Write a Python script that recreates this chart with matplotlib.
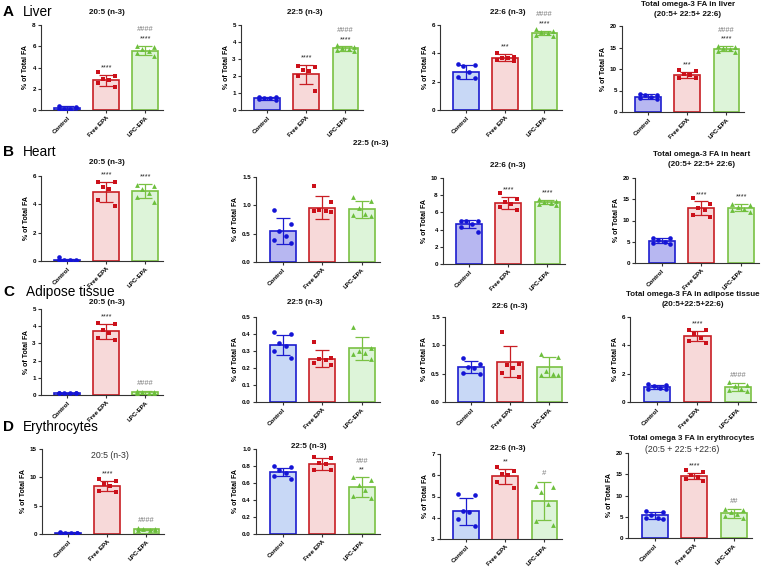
import matplotlib
matplotlib.use('Agg')
import matplotlib.pyplot as plt
import numpy as np

plt.rcParams['font.family'] = ['Liberation Sans', 'DejaVu Sans']

W, H = 766, 568
groups = ['Control', 'Free EPA', 'LPC-EPA']

# ---------------- data (mean, SD, individual values) ----------------
# Row A: Liver
liv205_mean = [0.18, 2.80, 5.60]
liv205_sd = [0.15, 0.50, 0.45]
liv205_pts = [[0.35, 0.30, 0.10, 0.05, 0.10, 0.15], [3.60, 3.20, 2.90, 2.80, 2.50, 2.20], [6.00, 5.90, 5.70, 5.60, 5.40, 5.10]]
liv225_mean = [0.68, 2.10, 3.62]
liv225_sd = [0.08, 0.55, 0.12]
liv225_pts = [[0.78, 0.75, 0.72, 0.70, 0.65, 0.60], [2.60, 2.55, 2.35, 2.30, 2.00, 1.10], [3.80, 3.70, 3.65, 3.60, 3.55, 3.50]]
liv226_mean = [2.70, 3.70, 5.45]
liv226_sd = [0.50, 0.25, 0.15]
liv226_pts = [[3.25, 3.20, 3.10, 2.70, 2.30, 2.25], [4.05, 3.75, 3.70, 3.65, 3.50, 3.45], [5.70, 5.60, 5.50, 5.45, 5.30, 5.25]]
livtot_mean = [3.60, 8.60, 14.70]
livtot_sd = [0.50, 0.80, 0.60]
livtot_pts = [[4.20, 4.00, 3.90, 3.50, 3.20, 3.00], [9.80, 9.50, 8.80, 8.50, 7.80, 7.80], [15.30, 15.10, 14.80, 14.60, 14.20, 14.00]]

# Row B: Heart
hrt205_mean = [0.08, 4.90, 4.95]
hrt205_sd = [0.08, 0.70, 0.50]
hrt205_pts = [[0.25, 0.10, 0.10, 0.05, 0.05, 0.00], [5.55, 5.55, 5.20, 5.10, 4.30, 3.85], [5.40, 5.30, 5.05, 4.80, 4.50, 4.20]]
hrt225_mean = [0.55, 0.96, 0.93]
hrt225_sd = [0.23, 0.21, 0.15]
hrt225_pts = [[0.91, 0.67, 0.55, 0.45, 0.38, 0.33], [1.34, 1.06, 0.92, 0.90, 0.90, 0.88], [1.15, 1.07, 0.95, 0.85, 0.83, 0.82]]
hrt226_mean = [4.65, 7.10, 7.20]
hrt226_sd = [0.45, 0.70, 0.25]
hrt226_pts = [[5.05, 5.00, 4.95, 4.60, 4.30, 3.75], [8.30, 7.60, 7.20, 7.00, 6.60, 6.30], [7.60, 7.30, 7.20, 7.10, 7.00, 6.90]]
hrttot_mean = [5.20, 12.90, 13.00]
hrttot_sd = [0.60, 1.60, 0.80]
hrttot_pts = [[6.00, 5.90, 5.50, 5.00, 4.80, 4.40], [15.20, 14.00, 13.00, 12.50, 11.20, 10.90], [13.80, 13.60, 13.20, 12.80, 12.40, 12.10]]

# Row C: Adipose tissue
adp205_mean = [0.10, 3.70, 0.15]
adp205_sd = [0.02, 0.45, 0.07]
adp205_pts = [[0.13, 0.12, 0.12, 0.10, 0.10, 0.10], [4.20, 4.10, 3.80, 3.60, 3.30, 3.20], [0.22, 0.18, 0.15, 0.12, 0.10, 0.10]]
adp225_mean = [0.335, 0.255, 0.315]
adp225_sd = [0.060, 0.050, 0.065]
adp225_pts = [[0.41, 0.40, 0.35, 0.33, 0.30, 0.26], [0.355, 0.26, 0.255, 0.25, 0.23, 0.22], [0.44, 0.32, 0.30, 0.29, 0.28, 0.255]]
adp226_mean = [0.62, 0.71, 0.62]
adp226_sd = [0.10, 0.27, 0.17]
adp226_pts = [[0.77, 0.67, 0.62, 0.60, 0.52, 0.50], [1.24, 0.67, 0.65, 0.60, 0.52, 0.45], [0.85, 0.80, 0.55, 0.50, 0.48, 0.48]]
adptot_mean = [1.08, 4.65, 1.05]
adptot_sd = [0.15, 0.35, 0.28]
adptot_pts = [[1.30, 1.20, 1.10, 1.00, 0.95, 0.90], [5.10, 5.05, 4.80, 4.50, 4.30, 4.15], [1.40, 1.20, 1.10, 0.90, 0.85, 0.80]]

# Row D: Erythrocytes
ery205_mean = [0.20, 8.50, 0.80]
ery205_sd = [0.08, 0.90, 0.15]
ery205_pts = [[0.30, 0.25, 0.20, 0.20, 0.15, 0.10], [9.70, 9.40, 8.90, 8.40, 7.60, 7.40], [1.00, 0.90, 0.80, 0.75, 0.70, 0.65]]
ery225_mean = [0.73, 0.82, 0.55]
ery225_sd = [0.05, 0.07, 0.12]
ery225_pts = [[0.80, 0.79, 0.75, 0.72, 0.68, 0.65], [0.91, 0.90, 0.84, 0.82, 0.75, 0.75], [0.67, 0.63, 0.58, 0.52, 0.45, 0.42]]
ery226_mean = [4.30, 5.95, 4.80]
ery226_sd = [0.62, 0.35, 0.90]
ery226_pts = [[5.10, 5.05, 4.30, 4.25, 3.95, 3.60], [6.40, 6.20, 6.05, 6.00, 5.70, 5.40], [5.50, 5.45, 5.20, 4.65, 3.85, 3.65]]
erytot_mean = [5.30, 14.60, 5.80]
erytot_sd = [0.80, 0.80, 1.10]
erytot_pts = [[6.30, 6.20, 5.30, 4.80, 4.60, 4.50], [15.90, 15.50, 14.80, 14.40, 13.80, 13.40], [6.90, 6.70, 6.20, 5.60, 5.20, 4.60]]

# significance marks per group
liv_stars = [['', '****', '****'], ['', '****', '****'], ['', '***', '****'], ['', '***', '****']]
liv_hash = [['', '', '####'], ['', '', '####'], ['', '', '####'], ['', '', '####']]
hrt_stars = [['', '****', '****'], ['', '', ''], ['', '****', '****'], ['', '****', '****']]
hrt_hash = [['', '', ''], ['', '', ''], ['', '', ''], ['', '', '']]
adp_stars = [['', '****', ''], ['', '', ''], ['', '', ''], ['', '****', '']]
adp_hash = [['', '', '####'], ['', '', ''], ['', '', ''], ['', '', '####']]
ery_stars = [['', '****', ''], ['', '', '**'], ['', '**', ''], ['', '****', '']]
ery_hash = [['', '', '####'], ['', '', '###'], ['', '', '#'], ['', '', '##']]

# ---------------- style ----------------
edge_cols = ['#1c1ccf', '#c81e24', '#7ac143']
mark_cols = ['#1414d6', '#cc101a', '#6cbf3c']
free_fill = '#f7d9d9'
lpc_fill = '#ddf4d9'
markers = ['o', 's', '^']
offs = np.array([-0.22, 0.22, -0.08, 0.08, -0.22, 0.22])

fig = plt.figure(figsize=(W / 100, H / 100), dpi=100)


def draw(L, top, bot, width, means, sds, pts, ylim, yticks, fmt, stars, hashes, cfill):
    ax = fig.add_axes([L / W, 1 - bot / H, width / W, (bot - top) / H])
    x = np.arange(3)
    fills = [cfill, free_fill, lpc_fill]
    ax.bar(x, means, width=0.66, color=fills, edgecolor=edge_cols, linewidth=1.2, zorder=1)
    for i in range(3):
        ax.errorbar(x[i], means[i], yerr=sds[i], color=edge_cols[i], capsize=5,
                    capthick=0.9, elinewidth=0.9, zorder=3)
        p = np.array(pts[i])
        ax.scatter(x[i] + offs[:len(p)], p, marker=markers[i], s=11 if i != 2 else 12,
                   color=mark_cols[i], linewidths=0, zorder=4)
        top_y = means[i] + sds[i]
        if stars[i]:
            ax.annotate(stars[i], (x[i], top_y), xytext=(0, 2.5), textcoords='offset points',
                        ha='center', va='bottom', fontsize=5.2, color='#222222',
                        annotation_clip=False)
            hoff = 9
        else:
            hoff = 3
        if hashes[i]:
            ax.annotate(hashes[i], (x[i], top_y), xytext=(0, hoff), textcoords='offset points',
                        ha='center', va='bottom', fontsize=5.4, color='#7a7a7a',
                        style='italic', annotation_clip=False)
    ax.set_xlim(-0.67, 2.45)
    ax.set_ylim(*ylim)
    ax.set_yticks(yticks)
    ax.set_yticklabels([fmt.format(t) for t in yticks])
    ax.set_xticks(x)
    ax.set_xticklabels(groups, rotation=45, ha='right', rotation_mode='anchor')
    for s in ['top', 'right']:
        ax.spines[s].set_visible(False)
    for s in ['left', 'bottom']:
        ax.spines[s].set_linewidth(0.8)
        ax.spines[s].set_color('#333333')
    ax.tick_params(axis='both', length=2.5, width=0.8, color='#333333', labelsize=4.5, pad=1.2)
    for lab in ax.get_xticklabels() + ax.get_yticklabels():
        lab.set_fontweight('bold')
    ax.set_ylabel('% of Total FA', fontsize=5.0, fontweight='bold', labelpad=2)
    ax.set_facecolor('none')
    return ax


lav = '#b7b7f1'
lblue = '#c8d8f6'

# Row A
draw(41, 25, 110, 122, liv205_mean, liv205_sd, liv205_pts, (0, 8), [0, 2, 4, 6, 8], '{:g}', liv_stars[0], liv_hash[0], lblue)
draw(241, 25, 110, 122, liv225_mean, liv225_sd, liv225_pts, (0, 5), [0, 1, 2, 3, 4, 5], '{:g}', liv_stars[1], liv_hash[1], lav)
draw(440, 25, 110, 122, liv226_mean, liv226_sd, liv226_pts, (0, 6), [0, 2, 4, 6], '{:g}', liv_stars[2], liv_hash[2], lblue)
draw(622, 26, 112, 122, livtot_mean, livtot_sd, livtot_pts, (0, 20), [0, 5, 10, 15, 20], '{:g}', liv_stars[3], liv_hash[3], lav)
# Row B
draw(41, 176, 261, 122, hrt205_mean, hrt205_sd, hrt205_pts, (0, 6), [0, 2, 4, 6], '{:g}', hrt_stars[0], hrt_hash[0], lav)
draw(256, 177, 262, 124, hrt225_mean, hrt225_sd, hrt225_pts, (0, 1.5), [0, 0.5, 1.0, 1.5], '{:.1f}', hrt_stars[1], hrt_hash[1], lav)
draw(443, 178, 264, 122, hrt226_mean, hrt226_sd, hrt226_pts, (0, 10), [0, 2, 4, 6, 8, 10], '{:g}', hrt_stars[2], hrt_hash[2], lav)
draw(635, 178, 263, 124, hrttot_mean, hrttot_sd, hrttot_pts, (0, 20), [0, 5, 10, 15, 20], '{:g}', hrt_stars[3], hrt_hash[3], lav)
# Row C
draw(41, 309, 395, 122, adp205_mean, adp205_sd, adp205_pts, (0, 5), [0, 1, 2, 3, 4, 5], '{:g}', adp_stars[0], adp_hash[0], lblue)
draw(256, 317, 402, 124, adp225_mean, adp225_sd, adp225_pts, (0, 0.5), [0, 0.1, 0.2, 0.3, 0.4, 0.5], '{:.1f}', adp_stars[1], adp_hash[1], lblue)
draw(445, 317, 402, 122, adp226_mean, adp226_sd, adp226_pts, (0, 1.5), [0, 0.5, 1.0, 1.5], '{:.1f}', adp_stars[2], adp_hash[2], lblue)
draw(630, 317, 402, 126, adptot_mean, adptot_sd, adptot_pts, (0, 6), [0, 2, 4, 6], '{:g}', adp_stars[3], adp_hash[3], lblue)
# Row D
draw(42, 449, 534, 122, ery205_mean, ery205_sd, ery205_pts, (0, 15), [0, 5, 10, 15], '{:g}', ery_stars[0], ery_hash[0], lblue)
draw(256, 449, 534, 124, ery225_mean, ery225_sd, ery225_pts, (0, 1.0), [0, 0.2, 0.4, 0.6, 0.8, 1.0], '{:.1f}', ery_stars[1], ery_hash[1], lblue)
draw(440, 454, 539, 122, ery226_mean, ery226_sd, ery226_pts, (3, 7), [3, 4, 5, 6, 7], '{:g}', ery_stars[2], ery_hash[2], lblue)
draw(628, 453, 538, 124, erytot_mean, erytot_sd, erytot_pts, (0, 20), [0, 5, 10, 15, 20], '{:g}', ery_stars[3], ery_hash[3], lblue)


def ftext(x, y, s, **kw):
    fig.text(x / W, 1 - y / H, s, **kw)


# Row letters and tissue names
for letter, name, yy in [('A', 'Liver', 12), ('B', 'Heart', 152), ('C', 'Adipose tissue', 292), ('D', 'Erythrocytes', 427)]:
    ftext(3, yy, letter, fontsize=11, fontweight='bold', va='center', ha='left')
    ftext(23 if letter != 'C' else 26, yy, name, fontsize=9.8, va='center', ha='left')

tb = dict(fontsize=5.8, fontweight='bold', ha='center', va='center', color='#111111')
tn = dict(fontsize=6.3, ha='center', va='center', color='#333333')
# Row A titles
ftext(107, 12, '20:5 (n-3)', **tb)
ftext(305, 12, '22:5 (n-3)', **tb)
ftext(508, 12, '22:6 (n-3)', **tb)
ftext(688, 4, 'Total omega-3 FA in liver', **tb)
ftext(688, 14, '(20:5+ 22:5+ 22:6)', **tb)
# Row B titles
ftext(107, 162, '20:5 (n-3)', **tb)
ftext(371, 143, '22:5 (n-3)', **tb)
ftext(508, 166, '22:6 (n-3)', **tb)
ftext(702, 155, 'Total omega-3 FA in heart', **tb)
ftext(702, 165, '(20:5+ 22:5+ 22:6)', **tb)
# Row C titles
ftext(107, 303, '20:5 (n-3)', **tb)
ftext(305, 303, '22:5 (n-3)', **tb)
ftext(510, 307, '22:6 (n-3)', **tb)
ftext(693, 294, 'Total omega-3 FA in adipose tissue', **tb)
ftext(693, 304, '(20:5+22:5+22:6)', **tb)
# Row D titles
ftext(110, 455, '20:5 (n-3)', **tn)
ftext(309, 446, '22:5 (n-3)', **tb)
ftext(508, 448, '22:6 (n-3)', **tb)
ftext(692, 439, 'Total omega 3 FA in erythrocytes', **tb)
ftext(682, 450, '(20:5 + 22:5 +22:6)', **tn)

fig.savefig('out.png', dpi=100)
